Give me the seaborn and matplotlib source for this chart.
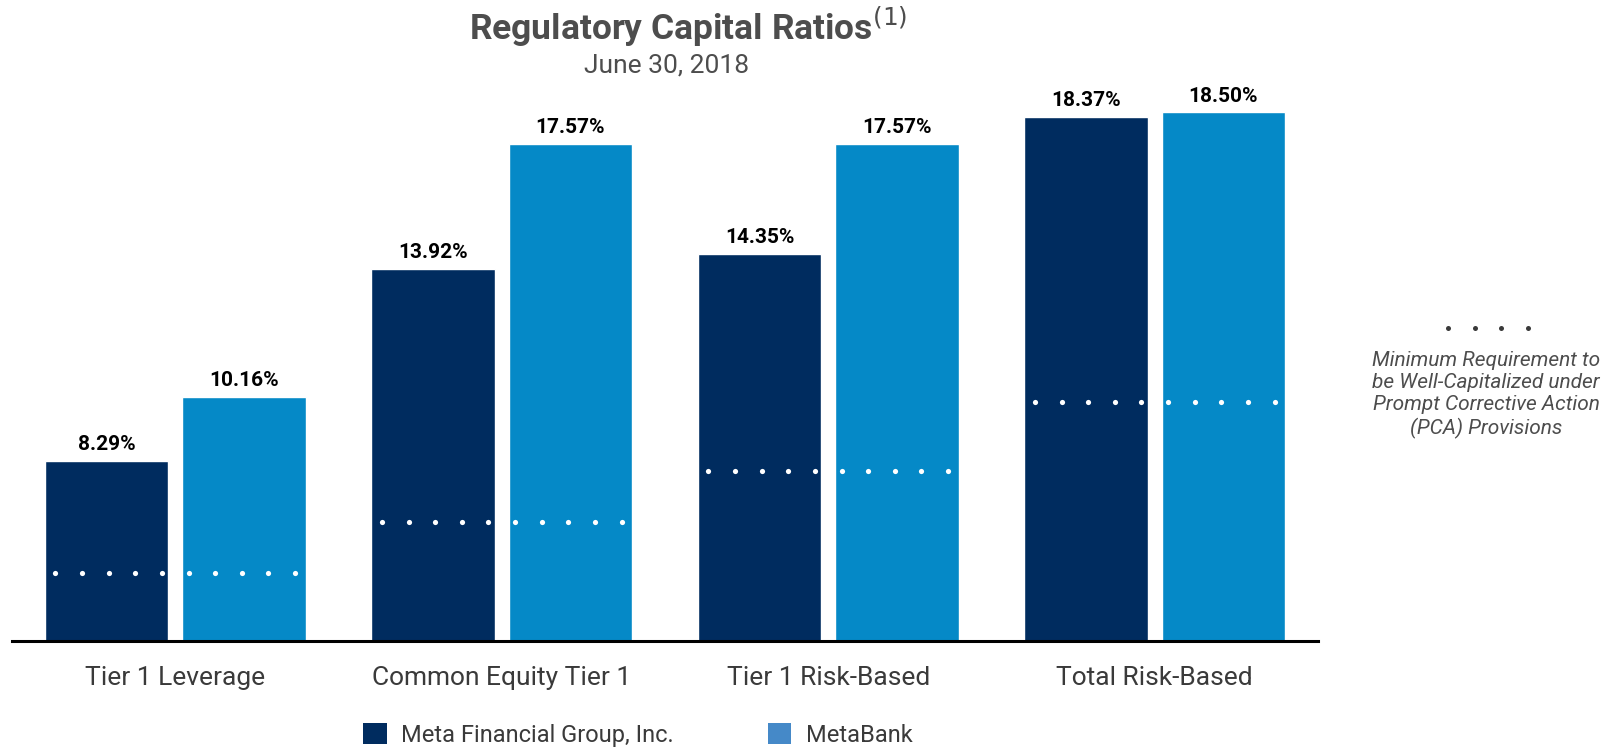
import numpy as np
import pandas as pd
import seaborn as sns
import matplotlib.pyplot as plt
from matplotlib.patches import Patch

categories = ["Tier 1 Leverage", "Common Equity Tier 1", "Tier 1 Risk-Based", "Total Risk-Based"]
meta_financial = [8.29, 13.92, 14.35, 18.37]
metabank = [10.16, 17.57, 17.57, 18.50]
well_capitalized = [5.0, 6.5, 8.0, 10.0]
series_names = ["Meta Financial Group, Inc.", "MetaBank"]

navy = "#002C5F"
blue = "#0589C7"
legend_blue = "#4589C8"
gray = "#4D4D4D"

df = pd.DataFrame({
    "category": categories * 2,
    "value": meta_financial + metabank,
    "series": [series_names[0]] * 4 + [series_names[1]] * 4,
})

sns.set_style("white")
plt.rcParams["font.family"] = ["Roboto", "DejaVu Sans"]

fig = plt.figure(figsize=(16.07, 7.47), dpi=100)
ax = fig.add_axes([12 / 1607, 106 / 747, 1306 / 1607, 545.6 / 747])

sns.barplot(data=df, x="category", y="value", hue="series",
            palette={series_names[0]: navy, series_names[1]: blue},
            width=0.84, gap=0.1, saturation=1, legend=False, ax=ax)

ax.set_ylim(3.0, 19.0)
ax.set_xlim(-0.5, 3.5)

# value labels
for container in ax.containers:
    ax.bar_label(container, labels=[f"{v:.2f}%" for v in container.datavalues],
                 padding=5, fontsize=15, fontweight="bold", color="black")

# well-capitalized minimum dots
offsets = np.linspace(-0.367, 0.367, 10)
for i, level in enumerate(well_capitalized):
    ax.scatter(i + offsets, [level] * len(offsets), s=14, color="white",
               zorder=5, linewidths=0)

for side in ["left", "right", "top"]:
    ax.spines[side].set_visible(False)
ax.spines["bottom"].set_linewidth(2.2)
ax.spines["bottom"].set_color("black")
ax.set_yticks([])
ax.set_xlabel("")
ax.set_ylabel("")
ax.tick_params(axis="x", length=0, pad=18, labelsize=19, labelcolor="#3A3A3A")

# title
fig.text(0.428, 1 - 27 / 747, "Regulatory Capital Ratios$^{(1)}$", ha="center",
         va="center", fontsize=25.5, fontweight="bold", color=gray)
fig.text(667 / 1607, 1 - 65 / 747, "June 30, 2018", ha="center", va="center",
         fontsize=19, color=gray)

# right note
fig.text(1486 / 1607, 1 - 395 / 747,
         "Minimum Requirement to\nbe Well-Capitalized under\nPrompt Corrective Action\n(PCA) Provisions",
         ha="center", va="center", fontsize=15, style="italic", color=gray,
         linespacing=1.2)
key_x = np.linspace(1448, 1528, 4) / 1607
fig.add_artist(plt.Line2D(key_x, [1 - 328 / 747] * 4, transform=fig.transFigure,
                          linestyle="none", marker="o", markersize=3.6,
                          color="#3A3A3A", markeredgewidth=0))

handles = [Patch(facecolor=navy, edgecolor="none"), Patch(facecolor=legend_blue, edgecolor="none")]
fig.legend(handles, series_names, loc="center left", bbox_to_anchor=(363 / 1607, 12 / 747),
           ncol=2, frameon=False, fontsize=17, handlelength=1.0, handleheight=1.0,
           handletextpad=0.6, columnspacing=4.0, borderpad=0, borderaxespad=0,
           labelcolor="#3A3A3A")

fig.savefig("out.png", dpi=100)
